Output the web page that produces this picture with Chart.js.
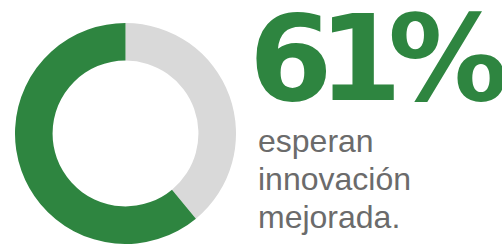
<!DOCTYPE html>
<html>
<head>
<meta charset="utf-8">
<script src="https://cdn.jsdelivr.net/npm/chart.js@4"></script>
<style>
  html, body { margin: 0; padding: 0; background: #fff; overflow: hidden; }
  body { width: 502px; height: 250px; position: relative; }
  #chartBox { position: absolute; left: 15px; top: 23px; width: 221px; height: 221px; }
  #bigNum {
    position: absolute; left: 249px; top: -1px;
    font-family: "DejaVu Sans", sans-serif; font-weight: bold;
    font-size: 120px; line-height: 1; color: #2e8540; white-space: nowrap;
  }
  #bigNum .tight { letter-spacing: -14px; }
  #caption {
    position: absolute; left: 258px; top: 122px;
    font-family: "Liberation Sans", Arial, sans-serif;
    font-size: 32px; line-height: 38px; color: #6b6b6b;
  }
</style>
</head>
<body>
<div id="chartBox"><canvas id="donut"></canvas></div>
<div id="bigNum"><span class="tight">61</span>%</div>
<div id="caption">esperan<br>innovación<br>mejorada.</div>
<script>
// Data
const labels = ['Otros', 'Esperan innovación mejorada'];
const values = [39, 61];
const colors = ['#d9d9d9', '#2e8540'];

document.addEventListener('DOMContentLoaded', function() {
    const ctx = document.getElementById('donut').getContext('2d');

    new Chart(ctx, {
        type: 'doughnut',
        data: {
            labels: labels,
            datasets: [{
                data: values,
                backgroundColor: colors,
                borderWidth: 0
            }]
        },
        options: {
            responsive: true,
            maintainAspectRatio: false,
            animation: false,
            cutout: '66%',
            layout: { padding: 0 },
            plugins: {
                legend: { display: false },
                tooltip: { enabled: false }
            }
        }
    });
});
</script>
</body>
</html>
